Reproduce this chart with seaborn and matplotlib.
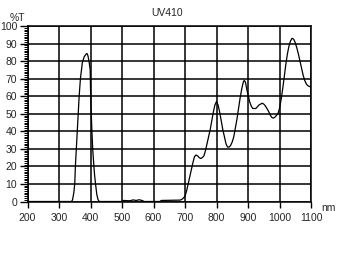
import matplotlib
matplotlib.use("Agg")
import matplotlib.pyplot as plt
from matplotlib.ticker import MultipleLocator
import seaborn as sns
import pandas as pd

title = "UV410"
x_label = "nm"
y_label = "%T"
x_ticks = [200, 300, 400, 500, 600, 700, 800, 900, 1000, 1100]
y_ticks = [0, 10, 20, 30, 40, 50, 60, 70, 80, 90, 100]

wavelength = [200, 300, 340, 343, 347, 350, 352, 355, 358, 361, 364, 368, 374, 380,
              386, 389, 392, 396, 399, 400, 401, 404, 407, 410, 413, 416, 420, 424,
              428, 499, 505, 515, 525, 535, 545, 555, 565, 570, 620, 625, 685, 690,
              695, 700, 705, 710, 715, 720, 725, 730, 735, 740, 745, 750, 755, 760,
              765, 770, 775, 780, 785, 790, 795, 800, 805, 810, 815, 820, 825, 830,
              835, 840, 845, 850, 855, 860, 865, 870, 875, 880, 885, 888, 892, 896,
              900, 905, 910, 915, 920, 925, 930, 935, 940, 945, 950, 955, 960, 965,
              970, 975, 980, 985, 990, 995, 1000, 1005, 1010, 1015, 1020, 1025, 1030,
              1035, 1040, 1045, 1050, 1055, 1060, 1065, 1070, 1075, 1080, 1085, 1090,
              1095, 1100]
transmittance = [0, 0, 0, 1, 5, 10, 20, 30, 40, 50, 60, 70, 79, 82.5,
                 84, 84.3, 83, 79, 75, 65, 58, 42, 30, 22, 15, 10, 4, 1,
                 0, 0, 0.6, 0.5, 0.4, 0.9, 0.6, 1.0, 0.5, 0, 0, 0.6, 0.8, 1.2,
                 2, 3, 6, 10, 14, 18, 22, 25.5, 26.5, 26, 25, 24.5, 25, 26,
                 29, 33, 37, 41, 46, 51, 55, 57, 55, 51, 46, 41, 37, 33,
                 31, 31, 32, 34, 37, 42, 47, 53, 59, 64, 68, 69, 68, 64,
                 61, 57, 54.5, 53, 53, 53, 54, 55, 55.5, 56, 55.5, 54.5, 53, 51.5,
                 49.5, 48, 47.5, 48, 49, 50, 53, 58, 64, 71, 78, 84, 88.5,
                 91.5, 93, 92.5, 90.5, 87.5, 84, 80, 76, 72, 69, 67, 66,
                 65.5, 65.5]

df = pd.DataFrame({"wavelength": wavelength, "transmittance": transmittance})

sns.set_style("ticks")
plt.rcParams["font.family"] = ["Liberation Sans", "DejaVu Sans"]

W, H = 340, 270
fig = plt.figure(figsize=(W / 100, H / 100), dpi=100)
ax = fig.add_axes([27.5 / W, 1 - 201.5 / H, (311 - 27.5) / W, (201.5 - 26) / H])

sns.lineplot(data=df, x="wavelength", y="transmittance", ax=ax, color="black",
             linewidth=0.9, estimator=None, sort=False)

ax.set_xlim(200, 1100)
ax.set_ylim(0, 100)
ax.set_xticks(x_ticks)
ax.set_yticks(y_ticks)
ax.set_xticklabels([str(v) for v in x_ticks])
ax.set_yticklabels([str(v) for v in y_ticks])
ax.yaxis.set_minor_locator(MultipleLocator(1))
ax.grid(True, which="major", color="black", linewidth=1.1)
ax.set_axisbelow(True)
ax.set_xlabel("")
ax.set_ylabel("")
for s in ax.spines.values():
    s.set_color("black")
    s.set_linewidth(1.1)
ax.tick_params(axis="y", which="major", length=6, width=1, color="black",
               labelsize=7.5, pad=1.5, direction="out")
ax.tick_params(axis="y", which="minor", length=3, width=0.7, color="black",
               direction="out")
ax.tick_params(axis="x", which="major", length=4, width=1, color="black",
               labelsize=7.5, pad=4, direction="out")
ax.tick_params(axis="x", which="minor", length=0)

fig.text(167 / W, 1 - 13 / H, title, ha="center", va="center", fontsize=7.5)
fig.text(17 / W, 1 - 18 / H, y_label, ha="center", va="center", fontsize=7.5)
fig.text(328 / W, 1 - 208 / H, x_label, ha="center", va="center", fontsize=7.5)

fig.savefig("out.png", dpi=100, facecolor="white")
